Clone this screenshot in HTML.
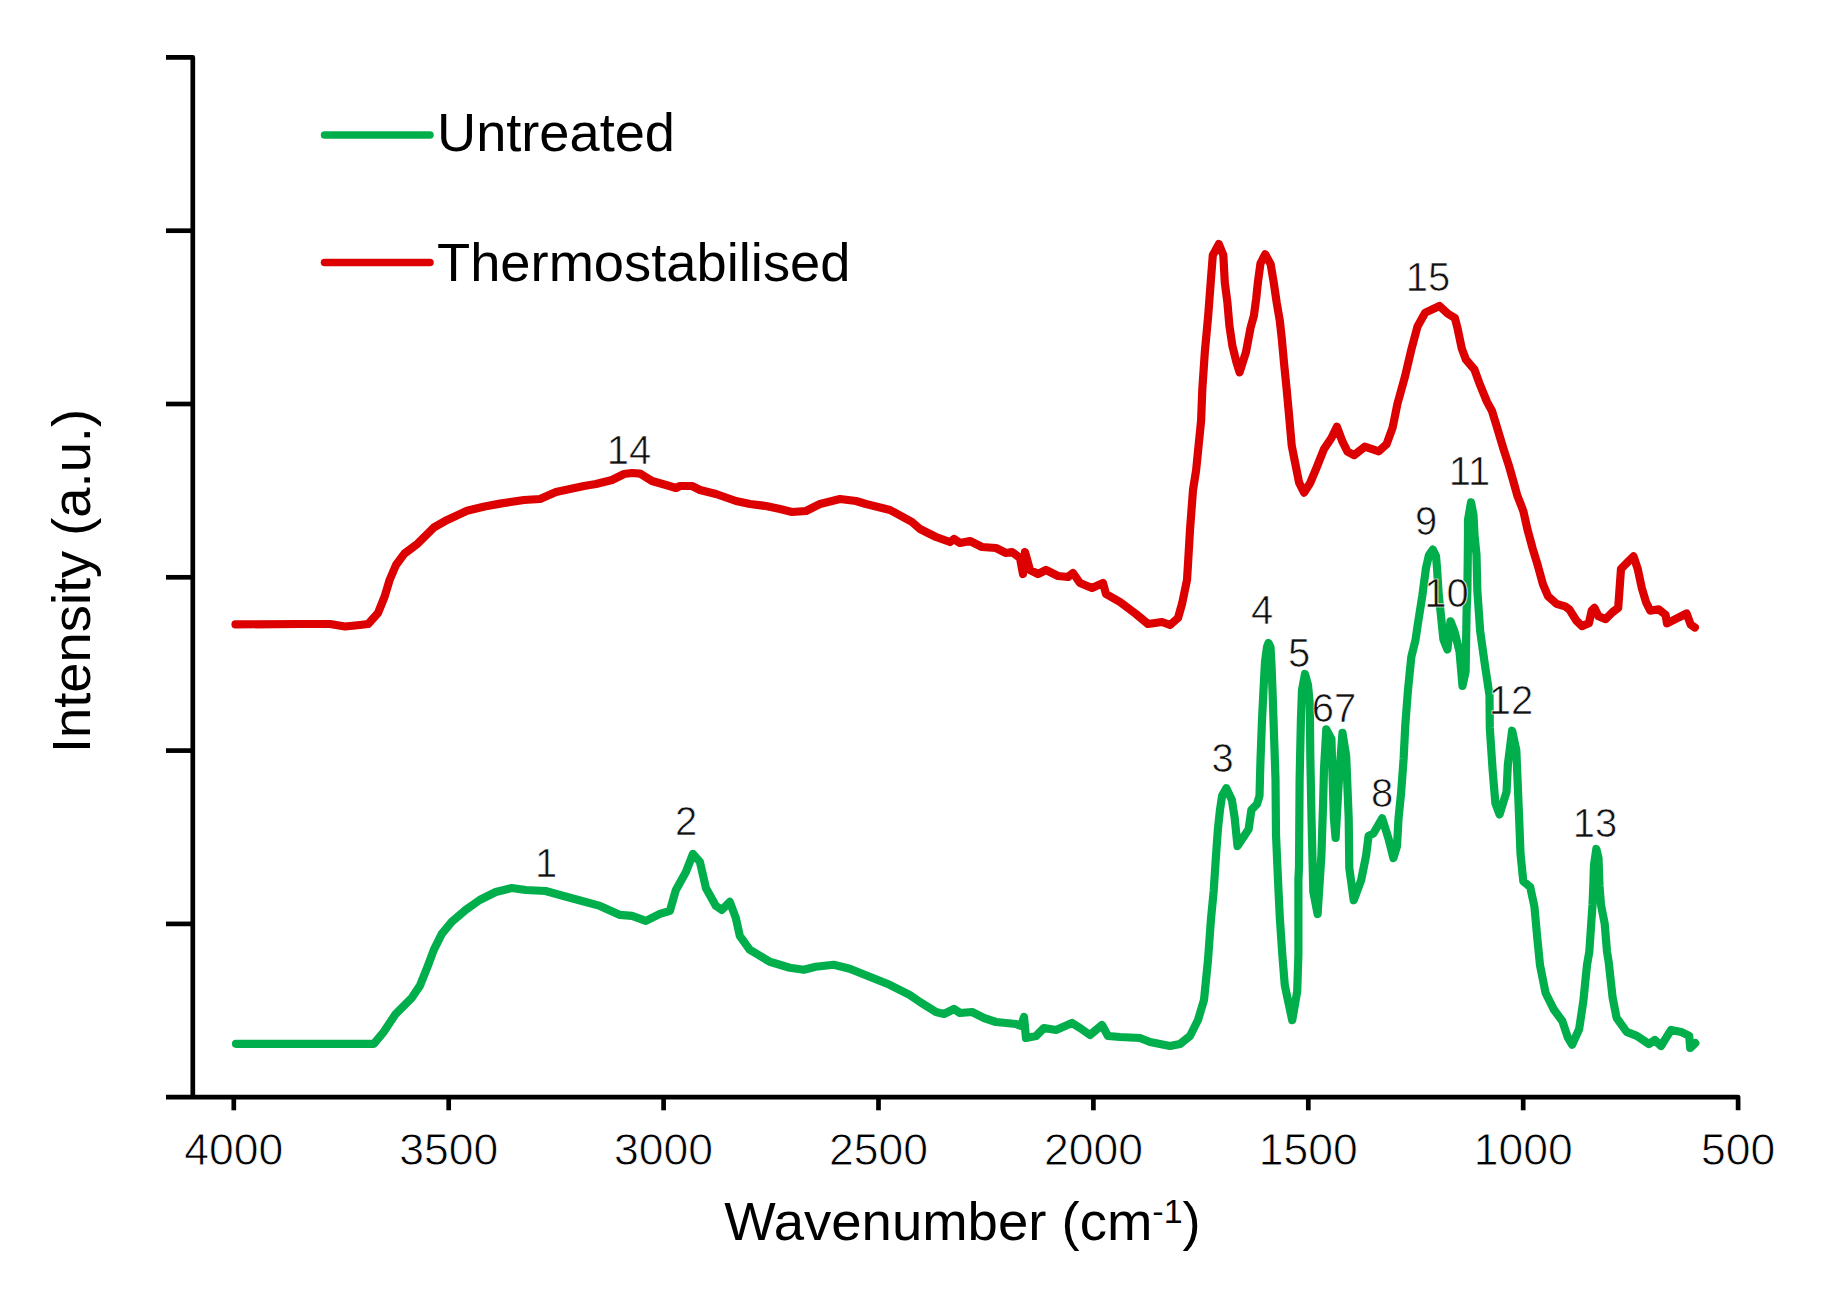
<!DOCTYPE html>
<html><head><meta charset="utf-8"><title>FTIR spectra</title>
<style>html,body{margin:0;padding:0;background:#fff;overflow:hidden;}svg{display:block;}</style>
</head><body>
<svg width="1822" height="1290" viewBox="0 0 1822 1290">
<rect width="1822" height="1290" fill="#fff"/>
<g stroke="#000" stroke-width="4.7" fill="none" stroke-linejoin="round">
<path d="M166,57.4 H192.8 V1097.1"/>
<path d="M166,1097.1 H1738.1 V1110.3"/>
<path d="M166,230.7 H192.8"/>
<path d="M166,404.0 H192.8"/>
<path d="M166,577.3 H192.8"/>
<path d="M166,750.6 H192.8"/>
<path d="M166,923.9 H192.8"/>
<path d="M233.8,1097.1 V1110.3"/>
<path d="M448.7,1097.1 V1110.3"/>
<path d="M663.6,1097.1 V1110.3"/>
<path d="M878.5,1097.1 V1110.3"/>
<path d="M1093.4,1097.1 V1110.3"/>
<path d="M1308.3,1097.1 V1110.3"/>
<path d="M1523.2,1097.1 V1110.3"/>
</g>
<path d="M235.5,624.4 L300.0,624.0 L330.0,624.0 L345.0,626.5 L360.0,625.0 L368.2,624.0 L378.0,613.0 L384.7,596.4 L389.6,580.0 L396.0,565.0 L404.4,553.6 L417.6,543.7 L434.0,527.3 L447.2,519.9 L467.0,510.8 L483.5,506.7 L500.0,503.6 L524.0,500.0 L540.0,499.0 L556.0,492.0 L570.0,489.0 L584.0,486.0 L596.0,484.0 L612.0,480.0 L624.0,474.0 L632.0,473.0 L640.0,473.6 L652.0,481.0 L666.0,485.0 L676.0,488.0 L680.0,486.0 L692.0,486.0 L700.0,490.0 L716.0,494.0 L736.0,501.0 L750.0,504.0 L766.0,506.0 L780.0,509.0 L792.0,512.0 L806.0,511.0 L820.0,504.0 L840.0,499.0 L856.0,501.0 L866.0,504.0 L890.0,510.0 L912.0,522.0 L920.0,529.0 L936.0,537.0 L950.0,542.0 L954.0,539.0 L960.0,543.0 L970.0,541.0 L982.0,547.0 L996.0,548.0 L1006.0,553.0 L1012.0,552.0 L1020.0,558.0 L1023.0,574.0 L1025.0,552.0 L1030.0,570.0 L1038.0,574.0 L1046.0,570.0 L1058.0,576.0 L1068.0,577.0 L1073.0,573.0 L1080.0,583.0 L1092.0,588.0 L1103.0,583.0 L1106.0,594.0 L1120.0,602.0 L1136.0,614.0 L1148.0,624.0 L1162.0,622.0 L1170.0,625.0 L1178.0,618.0 L1182.0,604.0 L1187.0,580.0 L1188.0,564.0 L1190.0,530.0 L1193.0,490.0 L1196.1,470.3 L1198.6,445.5 L1201.1,420.6 L1202.3,389.6 L1204.8,352.4 L1208.2,315.7 L1210.7,282.4 L1212.8,255.2 L1218.8,244.1 L1223.3,255.0 L1224.8,282.4 L1227.4,302.6 L1229.4,325.7 L1232.4,346.0 L1236.4,362.0 L1239.6,372.3 L1246.0,352.0 L1250.5,328.0 L1253.9,315.7 L1256.2,298.5 L1257.9,282.4 L1260.5,263.3 L1265.2,254.3 L1270.7,264.3 L1273.7,282.4 L1276.7,302.6 L1279.8,320.7 L1281.8,338.8 L1284.2,364.8 L1286.7,389.6 L1289.2,416.9 L1291.7,445.5 L1295.4,464.1 L1299.1,482.7 L1304.1,492.6 L1310.3,482.7 L1316.5,467.8 L1323.9,449.2 L1331.4,438.0 L1336.9,426.8 L1342.5,441.7 L1347.5,451.7 L1354.0,455.2 L1364.8,446.7 L1378.8,451.3 L1386.5,444.3 L1392.7,427.3 L1397.4,404.0 L1405.1,376.1 L1411.3,349.8 L1417.5,326.5 L1425.3,312.6 L1439.5,306.0 L1447.9,313.7 L1454.9,317.9 L1457.7,329.1 L1461.8,348.6 L1466.0,359.7 L1474.4,369.5 L1480.0,384.8 L1486.9,401.6 L1492.0,411.0 L1497.5,429.0 L1503.5,449.0 L1509.0,466.0 L1513.0,480.0 L1517.3,495.5 L1523.3,510.9 L1527.5,529.6 L1532.6,548.4 L1537.8,565.5 L1542.9,584.2 L1548.0,596.2 L1556.5,603.8 L1565.1,606.4 L1569.3,609.3 L1576.3,620.5 L1581.9,626.1 L1588.9,623.3 L1591.7,610.7 L1594.4,607.9 L1598.6,616.3 L1605.6,619.1 L1612.6,612.1 L1618.2,607.9 L1619.6,588.4 L1621.0,568.9 L1627.9,561.9 L1633.5,556.3 L1637.7,568.9 L1641.9,588.4 L1646.1,602.4 L1650.3,610.7 L1658.6,609.3 L1665.6,614.9 L1667.0,623.3 L1675.4,619.1 L1686.6,613.5 L1690.7,624.7 L1694.9,627.5" fill="none" stroke="#DC0000" stroke-width="8.2" stroke-linejoin="round" stroke-linecap="round"/>
<path d="M236.0,1043.8 L373.8,1043.8 L383.8,1031.8 L395.8,1013.8 L411.8,997.8 L419.8,985.9 L427.8,965.9 L433.8,949.9 L441.8,933.9 L451.7,921.9 L465.7,909.9 L479.7,900.0 L495.7,892.0 L511.7,888.0 L525.7,890.0 L545.6,891.0 L563.6,896.0 L582.0,901.0 L600.0,905.9 L620.0,914.9 L632.0,915.9 L645.9,920.9 L659.9,913.9 L669.9,910.9 L675.9,889.9 L685.9,871.9 L692.9,853.9 L699.9,861.9 L705.9,887.9 L715.9,905.9 L721.8,909.9 L729.8,901.9 L735.8,917.9 L739.8,935.8 L749.8,949.8 L769.8,961.8 L789.8,967.8 L803.8,969.8 L815.7,966.8 L833.7,964.8 L849.7,968.8 L869.7,976.8 L889.7,984.8 L909.6,994.8 L920.0,1002.0 L936.0,1012.0 L944.0,1014.0 L954.0,1009.0 L960.0,1013.0 L972.0,1012.0 L984.0,1018.0 L996.0,1022.0 L1016.0,1024.0 L1021.0,1026.0 L1024.0,1017.0 L1026.0,1038.0 L1036.0,1036.0 L1044.0,1028.0 L1056.0,1030.0 L1072.0,1023.0 L1080.0,1028.0 L1090.0,1035.0 L1102.0,1025.0 L1108.0,1036.0 L1120.0,1037.0 L1140.0,1038.0 L1150.0,1042.0 L1170.0,1046.0 L1180.0,1044.0 L1190.0,1036.0 L1198.0,1020.0 L1204.0,1000.0 L1206.0,980.0 L1208.0,960.0 L1210.9,920.0 L1213.7,890.8 L1215.8,858.6 L1217.9,829.3 L1220.0,809.8 L1222.1,795.8 L1226.3,788.2 L1231.9,800.0 L1234.7,818.2 L1237.5,846.1 L1243.0,837.7 L1248.6,829.3 L1251.4,809.8 L1257.0,804.2 L1259.5,795.8 L1260.5,760.0 L1262.0,720.0 L1263.5,690.0 L1265.0,662.0 L1267.0,647.0 L1268.5,643.0 L1270.5,647.0 L1271.5,665.0 L1272.5,690.0 L1273.8,729.0 L1275.5,779.0 L1276.0,834.6 L1278.0,880.0 L1279.8,917.2 L1282.3,954.4 L1284.8,985.4 L1292.2,1020.2 L1297.2,991.6 L1298.4,954.4 L1298.4,880.0 L1299.0,866.8 L1299.6,780.0 L1300.9,720.0 L1302.0,690.0 L1305.0,674.0 L1308.0,685.0 L1309.8,704.4 L1310.3,756.0 L1311.5,818.0 L1313.3,891.7 L1317.6,914.0 L1321.4,855.6 L1323.2,800.0 L1324.0,768.8 L1326.3,729.3 L1331.4,739.0 L1333.9,818.4 L1335.6,838.0 L1338.8,781.2 L1342.5,732.8 L1346.2,756.4 L1348.7,818.4 L1349.3,868.0 L1353.7,900.3 L1361.1,880.4 L1366.1,855.6 L1368.6,835.8 L1373.5,833.3 L1382.2,818.4 L1388.4,838.3 L1393.4,858.1 L1397.0,846.0 L1398.5,818.7 L1401.1,793.0 L1403.6,759.0 L1405.3,725.0 L1407.9,691.0 L1411.3,657.0 L1415.5,640.0 L1417.9,623.7 L1422.3,595.8 L1426.0,567.9 L1429.0,555.0 L1432.8,549.6 L1436.0,556.0 L1437.0,567.9 L1438.8,595.8 L1440.5,611.0 L1443.4,639.4 L1447.4,649.5 L1450.5,621.3 L1454.5,631.4 L1459.5,651.5 L1462.5,685.8 L1465.6,671.7 L1466.6,611.2 L1467.4,590.0 L1467.8,555.0 L1468.0,533.0 L1468.0,520.0 L1471.0,502.4 L1473.5,515.0 L1474.5,535.0 L1476.5,555.0 L1477.3,590.0 L1480.2,631.4 L1485.1,666.3 L1489.5,695.3 L1489.8,727.9 L1492.6,769.8 L1495.4,803.3 L1499.5,814.4 L1506.5,792.1 L1507.9,764.2 L1512.1,730.7 L1516.3,750.2 L1517.7,783.7 L1519.1,817.2 L1520.5,853.5 L1523.3,881.4 L1530.2,887.0 L1534.4,906.5 L1537.2,937.2 L1540.0,965.1 L1545.6,993.0 L1554.0,1009.8 L1562.3,1021.0 L1567.9,1037.7 L1572.1,1044.7 L1579.1,1029.3 L1583.3,1001.4 L1587.0,965.0 L1589.3,951.7 L1591.2,923.8 L1592.5,905.0 L1593.3,886.0 L1594.0,865.0 L1596.3,849.0 L1598.5,858.0 L1599.5,886.0 L1601.0,905.0 L1604.7,923.8 L1607.0,951.7 L1608.6,961.3 L1612.6,997.6 L1616.6,1017.8 L1626.7,1031.9 L1636.8,1035.9 L1648.9,1044.0 L1654.9,1040.0 L1661.0,1046.0 L1671.1,1029.9 L1681.2,1031.9 L1689.2,1035.9 L1690.2,1048.0 L1695.3,1043.0" fill="none" stroke="#00AE4C" stroke-width="8.2" stroke-linejoin="round" stroke-linecap="round"/>
<path d="M324.5,135 H430" stroke="#00AE4C" stroke-width="7.5" stroke-linecap="round"/>
<path d="M324.5,262.5 H430" stroke="#DC0000" stroke-width="7.5" stroke-linecap="round"/>
<text x="437" y="151.2" font-family="'Liberation Sans', Arial, sans-serif" font-size="54.2" fill="#000">Untreated</text>
<text x="437" y="281.1" font-family="'Liberation Sans', Arial, sans-serif" font-size="54.3" fill="#000">Thermostabilised</text>
<text x="233.8" y="1165" font-family="'Liberation Sans', Arial, sans-serif" font-size="44.5" text-anchor="middle" fill="#000" stroke="#fff" stroke-width="0.8">4000</text>
<text x="448.7" y="1165" font-family="'Liberation Sans', Arial, sans-serif" font-size="44.5" text-anchor="middle" fill="#000" stroke="#fff" stroke-width="0.8">3500</text>
<text x="663.6" y="1165" font-family="'Liberation Sans', Arial, sans-serif" font-size="44.5" text-anchor="middle" fill="#000" stroke="#fff" stroke-width="0.8">3000</text>
<text x="878.5" y="1165" font-family="'Liberation Sans', Arial, sans-serif" font-size="44.5" text-anchor="middle" fill="#000" stroke="#fff" stroke-width="0.8">2500</text>
<text x="1093.4" y="1165" font-family="'Liberation Sans', Arial, sans-serif" font-size="44.5" text-anchor="middle" fill="#000" stroke="#fff" stroke-width="0.8">2000</text>
<text x="1308.3" y="1165" font-family="'Liberation Sans', Arial, sans-serif" font-size="44.5" text-anchor="middle" fill="#000" stroke="#fff" stroke-width="0.8">1500</text>
<text x="1523.2" y="1165" font-family="'Liberation Sans', Arial, sans-serif" font-size="44.5" text-anchor="middle" fill="#000" stroke="#fff" stroke-width="0.8">1000</text>
<text x="1738.1" y="1165" font-family="'Liberation Sans', Arial, sans-serif" font-size="44.5" text-anchor="middle" fill="#000" stroke="#fff" stroke-width="0.8">500</text>
<text transform="translate(90,753) rotate(-90)" x="0" y="0" font-family="'Liberation Sans', Arial, sans-serif" font-size="54.3" fill="#000">Intensity (a.u.)</text>
<text x="724.3" y="1239.9" font-family="'Liberation Sans', Arial, sans-serif" font-size="54.5" fill="#000">Wavenumber (cm<tspan font-size="34" dy="-17">-1</tspan><tspan dy="17">)</tspan></text>
<text x="546" y="876.5" font-family="'Liberation Sans', Arial, sans-serif" font-size="40" text-anchor="middle" fill="#111" stroke="#fff" stroke-width="0.7">1</text>
<text x="686" y="835" font-family="'Liberation Sans', Arial, sans-serif" font-size="40" text-anchor="middle" fill="#111" stroke="#fff" stroke-width="0.7">2</text>
<text x="1222.5" y="772" font-family="'Liberation Sans', Arial, sans-serif" font-size="40" text-anchor="middle" fill="#111" stroke="#fff" stroke-width="0.7">3</text>
<text x="1262" y="623.5" font-family="'Liberation Sans', Arial, sans-serif" font-size="40" text-anchor="middle" fill="#111" stroke="#fff" stroke-width="0.7">4</text>
<text x="1299" y="667" font-family="'Liberation Sans', Arial, sans-serif" font-size="40" text-anchor="middle" fill="#111" stroke="#fff" stroke-width="0.7">5</text>
<text x="1334" y="722" font-family="'Liberation Sans', Arial, sans-serif" font-size="40" text-anchor="middle" fill="#111" stroke="#fff" stroke-width="0.7">67</text>
<text x="1382" y="807" font-family="'Liberation Sans', Arial, sans-serif" font-size="40" text-anchor="middle" fill="#111" stroke="#fff" stroke-width="0.7">8</text>
<text x="1426" y="534.5" font-family="'Liberation Sans', Arial, sans-serif" font-size="40" text-anchor="middle" fill="#111" stroke="#fff" stroke-width="0.7">9</text>
<text x="1446.5" y="607" font-family="'Liberation Sans', Arial, sans-serif" font-size="40" text-anchor="middle" fill="#111" stroke="#fff" stroke-width="0.7">10</text>
<text x="1469.5" y="485" font-family="'Liberation Sans', Arial, sans-serif" font-size="40" text-anchor="middle" fill="#111" stroke="#fff" stroke-width="0.7">11</text>
<text x="1511" y="714" font-family="'Liberation Sans', Arial, sans-serif" font-size="40" text-anchor="middle" fill="#111" stroke="#fff" stroke-width="0.7">12</text>
<text x="1595" y="837" font-family="'Liberation Sans', Arial, sans-serif" font-size="40" text-anchor="middle" fill="#111" stroke="#fff" stroke-width="0.7">13</text>
<text x="629" y="464" font-family="'Liberation Sans', Arial, sans-serif" font-size="40" text-anchor="middle" fill="#111" stroke="#fff" stroke-width="0.7">14</text>
<text x="1428" y="290.5" font-family="'Liberation Sans', Arial, sans-serif" font-size="40" text-anchor="middle" fill="#111" stroke="#fff" stroke-width="0.7">15</text>
</svg>
</body></html>
